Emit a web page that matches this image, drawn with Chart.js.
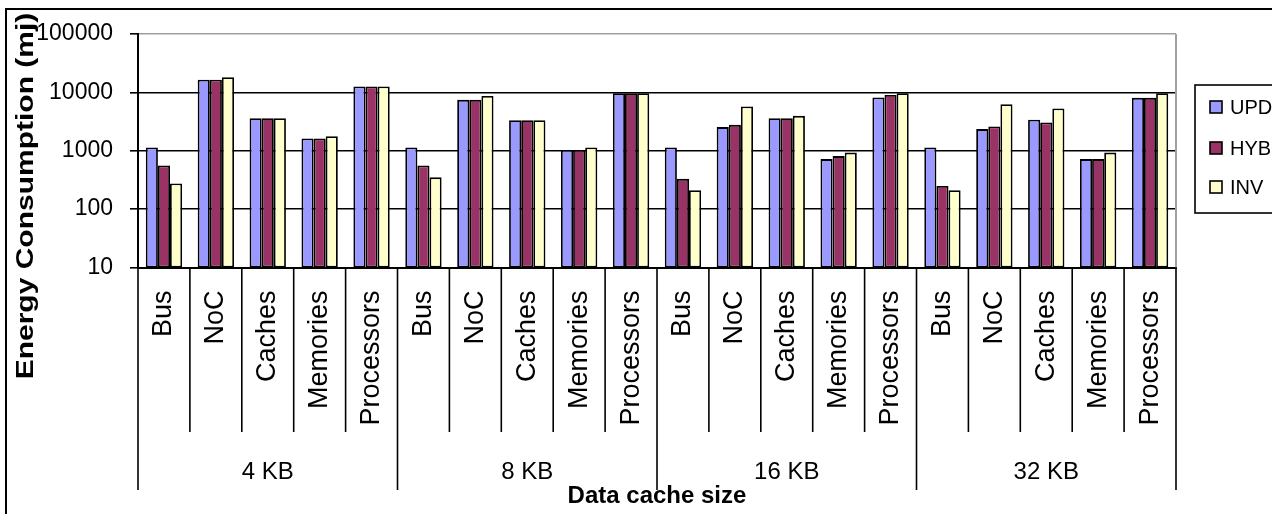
<!DOCTYPE html>
<html>
<head>
<meta charset="utf-8">
<script src="https://cdn.jsdelivr.net/npm/chart.js@4/dist/chart.umd.min.js"></script>
<style>
  html, body { margin: 0; padding: 0; background: #fff; }
  #wrap { width: 1272px; height: 514px; position: relative; }
</style>
</head>
<body>
<div id="wrap"><canvas id="c" width="1272" height="514"></canvas></div>
<script>
// Components of the platform and the data cache sizes they were measured with
const components = ['Bus', 'NoC', 'Caches', 'Memories', 'Processors'];
const cacheSizes = ['4 KB', '8 KB', '16 KB', '32 KB'];
const seriesNames = ['UPD', 'HYB', 'INV'];
const yTickValues = [10, 100, 1000, 10000, 100000];

// Energy consumption (mJ), one value per component per cache size
const updValues = [1140, 16500, 3600, 1620, 12600,
                   1140, 7450, 3340, 1030, 9700,
                   1140, 2540, 3620, 720, 8150,
                   1140, 2350, 3390, 720, 8050];
const hybValues = [560, 16500, 3600, 1620, 12600,
                   560, 7450, 3340, 1030, 9700,
                   330, 2780, 3620, 810, 9060,
                   250, 2600, 3050, 720, 8050];
const invValues = [275, 18200, 3600, 1780, 12600,
                   350, 8700, 3340, 1140, 9700,
                   210, 5730, 3960, 930, 9700,
                   210, 6280, 5290, 930, 9700];

const seriesColors = ['#9999FF', '#993366', '#FFFFCC'];
const FONT = '"Liberation Sans", Arial, Helvetica, sans-serif';

const xLabels = [];
cacheSizes.forEach(() => components.forEach(c => xLabels.push(c)));

// Frame around the whole chart, plot border, category separators,
// cache-size group labels, y-axis title and the legend box.
const decorations = {
  id: 'decorations',
  afterDraw(chart) {
    const ctx = chart.ctx;
    const area = chart.chartArea;
    const xs = chart.scales.x;
    ctx.save();

    // outer frame (left and top edges)
    ctx.strokeStyle = '#000';
    ctx.lineWidth = 2;
    ctx.beginPath();
    ctx.moveTo(6, 520);
    ctx.lineTo(6, 9);
    ctx.lineTo(1280, 9);
    ctx.stroke();

    // plot area border on the right
    ctx.strokeStyle = '#a0a0a0';
    ctx.lineWidth = 2;
    ctx.beginPath();
    ctx.moveTo(area.right, area.top);
    ctx.lineTo(area.right, area.bottom);
    ctx.stroke();

    // separators between categories below the axis
    const n = xLabels.length;
    const half = (xs.getPixelForTick(1) - xs.getPixelForTick(0)) / 2;
    ctx.strokeStyle = '#000';
    ctx.lineWidth = 1.6;
    for (let i = 0; i <= n; i++) {
      const x = i < n ? xs.getPixelForTick(i) - half : xs.getPixelForTick(n - 1) + half;
      const isGroupEdge = i % components.length === 0;
      ctx.beginPath();
      ctx.moveTo(x, area.bottom);
      ctx.lineTo(x, isGroupEdge ? 490 : 432);
      ctx.stroke();
    }

    // cache-size group labels
    ctx.fillStyle = '#000';
    ctx.font = '24px ' + FONT;
    ctx.textAlign = 'center';
    ctx.textBaseline = 'middle';
    cacheSizes.forEach((g, gi) => {
      const first = xs.getPixelForTick(gi * components.length);
      const last = xs.getPixelForTick(gi * components.length + components.length - 1);
      ctx.fillText(g, (first + last) / 2, 472);
    });

    // y-axis title
    ctx.save();
    ctx.translate(26, 196);
    ctx.rotate(-Math.PI / 2);
    ctx.scale(1.25, 1);
    ctx.font = 'bold 24px ' + FONT;
    ctx.textAlign = 'center';
    ctx.textBaseline = 'middle';
    ctx.fillText('Energy Consumption (mj)', 0, 0);
    ctx.restore();

    // legend
    const lx = 1195, ly = 85, lh = 128;
    ctx.fillStyle = '#fff';
    ctx.fillRect(lx, ly, 100, lh);
    ctx.strokeStyle = '#000';
    ctx.lineWidth = 1.6;
    ctx.strokeRect(lx, ly, 100, lh);
    const rows = [107, 148, 187];
    ctx.font = '20px ' + FONT;
    ctx.textAlign = 'left';
    ctx.textBaseline = 'middle';
    chart.data.datasets.forEach((ds, i) => {
      const y = rows[i];
      ctx.fillStyle = ds.backgroundColor;
      ctx.fillRect(1210, y - 6, 12, 12);
      ctx.strokeStyle = '#000';
      ctx.lineWidth = 1.6;
      ctx.strokeRect(1210, y - 6, 12, 12);
      ctx.fillStyle = '#000';
      ctx.fillText(ds.label, 1230, y + 1);
    });

    ctx.restore();
  }
};

const datasets = [updValues, hybValues, invValues].map((vals, i) => ({
  label: seriesNames[i],
  data: vals,
  backgroundColor: seriesColors[i],
  borderColor: '#000',
  borderWidth: 1.8,
  borderSkipped: false,
  categoryPercentage: 0.7,
  barPercentage: 1.0
}));

new Chart(document.getElementById('c'), {
  type: 'bar',
  data: { labels: xLabels, datasets },
  options: {
    responsive: false,
    devicePixelRatio: 1,
    animation: false,
    layout: { padding: { top: 34, right: 96, bottom: 0, left: 0 } },
    plugins: { legend: { display: false }, tooltip: { enabled: false } },
    scales: {
      x: {
        type: 'category',
        grid: { display: false, drawTicks: false },
        border: { display: true, color: '#000', width: 2 },
        ticks: {
          autoSkip: false,
          maxRotation: 90,
          minRotation: 90,
          padding: 23,
          color: '#000',
          font: { family: FONT, size: 27 }
        },
        title: {
          display: true,
          text: 'Data cache size',
          color: '#000',
          font: { family: FONT, size: 24, weight: 'bold' },
          padding: { top: 0, bottom: 3 }
        },
        afterFit(scale) { scale.height = 246.5; }
      },
      y: {
        type: 'logarithmic',
        min: 10,
        max: 100000,
        afterBuildTicks(scale) {
          scale.ticks = yTickValues.map(v => ({ value: v }));
        },
        afterFit(scale) { scale.width = 138; },
        grid: {
          color: ctx => (ctx.tick && ctx.tick.value === 100000) ? '#a0a0a0' : '#000',
          tickColor: '#000',
          lineWidth: 1.6,
          tickLength: 8,
          drawTicks: true
        },
        border: { display: true, color: '#000', width: 2 },
        ticks: {
          padding: 17,
          color: '#000',
          font: { family: FONT, size: 23 },
          callback: v => String(v)
        }
      }
    }
  },
  plugins: [decorations]
});
</script>
</body>
</html>
